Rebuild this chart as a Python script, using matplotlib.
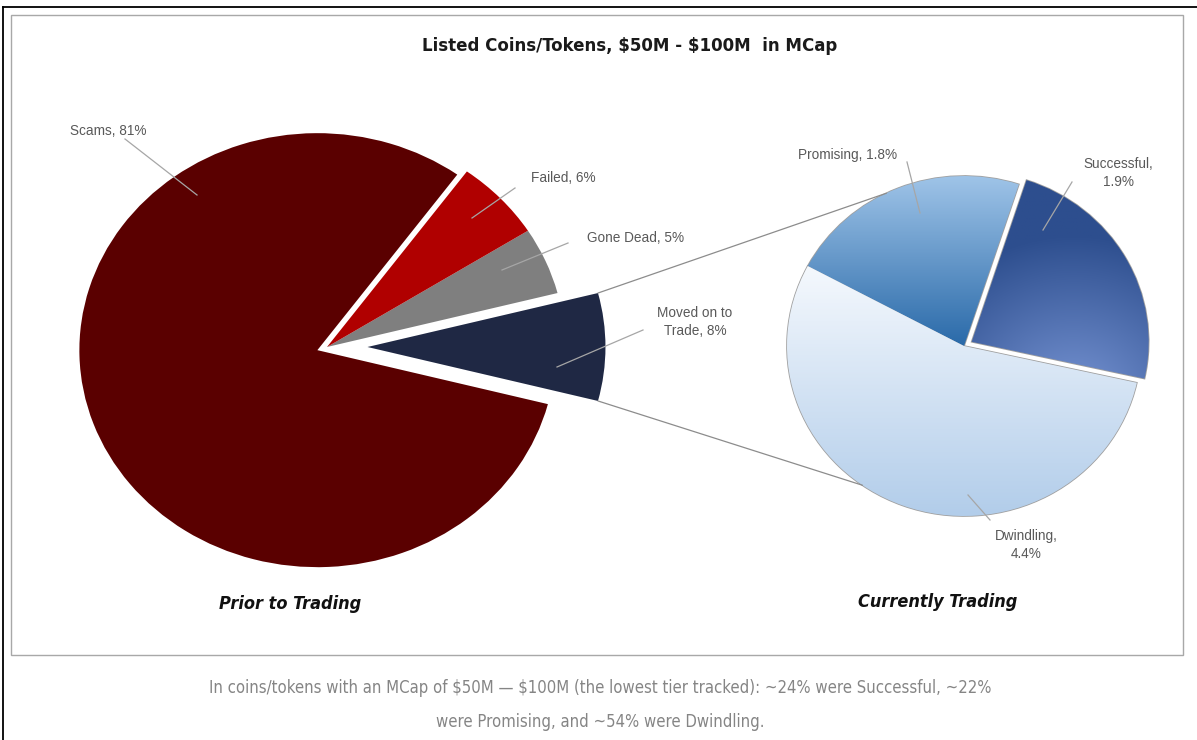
import numpy as np
import matplotlib
matplotlib.use("Agg")
import matplotlib.pyplot as plt
from matplotlib import font_manager
from matplotlib.patches import ConnectionPatch, Rectangle
from matplotlib.colors import to_rgb

# ---------------- data ----------------
title = "Listed Coins/Tokens, $50M - $100M  in MCap"
left_names = ["Moved on to Trade", "Gone Dead", "Failed", "Scams"]
left_values = [8, 5, 6, 81]
right_names = ["Successful", "Promising", "Dwindling"]
right_values = [1.9, 1.8, 4.4]
left_caption = "Prior to Trading"
right_caption = "Currently Trading"
note_lines = [
    "In coins/tokens with an MCap of $50M \u2014 $100M (the lowest tier tracked): ~24% were Successful, ~22%",
    "were Promising, and ~54% were Dwindling.",
]

# ---------------- fonts ----------------
names = {f.name for f in font_manager.fontManager.ttflist}
NARROW = "Liberation Sans Narrow" if "Liberation Sans Narrow" in names else "DejaVu Sans"
NARROW_STRETCH = "normal" if NARROW == "Liberation Sans Narrow" else "condensed"
LABEL_FONT = "Liberation Sans" if "Liberation Sans" in names else "DejaVu Sans"


def esc(s):
    return s.replace("$", r"\$")


W, H = 1197, 740
fig = plt.figure(figsize=(W / 100, H / 100), dpi=100)
fig.patch.set_facecolor("white")


def pie_axes(cx, cy, sx, sy, L=1.3):
    ax = fig.add_axes([(cx - L * sx) / W, (H - cy - L * sy) / H,
                       2 * L * sx / W, 2 * L * sy / H])
    return ax, L


# ---------------- left pie ----------------
axL, L1 = pie_axes(327, 347, 238, 217)
left_colors = ["#1f2844", "#7f7f7f", "#b00000", "#5a0000"]
left_explode = [0.17, 0.0, 0.0, 0.043]
start_left = -180.0 * left_values[0] / sum(left_values)
wl, _ = axL.pie(left_values, colors=left_colors, explode=left_explode,
                startangle=start_left, counterclock=True, radius=1.0,
                wedgeprops=dict(linewidth=0), frame=False)
axL.set_aspect("auto")
axL.set_xlim(-L1, L1)
axL.set_ylim(-L1, L1)
axL.axis("off")

# ---------------- right pie ----------------
axR, L2 = pie_axes(964, 346, 177, 170)
right_colors = ["#3a60a8", "#5b9bd5", "#d6e5f5"]
right_explode = [0.05, 0.0, 0.0]
wr, _ = axR.pie(right_values, colors=right_colors, explode=right_explode,
                startangle=-12.5, counterclock=True, radius=1.0,
                wedgeprops=dict(linewidth=1.2, edgecolor="#a0a0a0"), frame=False)

n = 300
gx = np.linspace(-1.25, 1.25, n)
GX, GY = np.meshgrid(gx, gx)


def blend(c1, c2, t):
    c1 = np.array(to_rgb(c1)); c2 = np.array(to_rgb(c2))
    t = np.clip(t, 0, 1)[..., None]
    return c1 * (1 - t) + c2 * t


grads = [
    blend("#7a97d6", "#2d4e8e", np.hypot(GX - 0.62, GY + 0.35) / 1.0),   # Successful (radial)
    blend("#9fc4e8", "#2a6aa9", (1.0 - GY) / 1.0),                       # Promising
    blend("#f4f8fd", "#b2cdea", (0.45 - GY) / 1.45),                      # Dwindling
]
for w, img in zip(wr, grads):
    im = axR.imshow(img, extent=(-1.25, 1.25, -1.25, 1.25), origin="lower",
                    aspect="auto", zorder=w.get_zorder() + 0.01)
    im.set_clip_path(w)
axR.set_aspect("auto")
axR.set_xlim(-L2, L2)
axR.set_ylim(-L2, L2)
axR.axis("off")

# ---------------- connector lines ----------------
half = np.deg2rad(180.0 * left_values[0] / sum(left_values))
mx = left_explode[0]
for sgn, ang in [(1, 116), (-1, 235)]:
    a = np.deg2rad(ang)
    cp = ConnectionPatch(xyA=(mx + np.cos(half), sgn * np.sin(half)), coordsA=axL.transData,
                         xyB=(np.cos(a), np.sin(a)), coordsB=axR.transData,
                         color="#8c8c8c", lw=0.9, zorder=1)
    fig.add_artist(cp)

# ---------------- overlay (pixel coords) ----------------
ov = fig.add_axes([0, 0, 1, 1], zorder=5)
ov.set_xlim(0, W)
ov.set_ylim(H, 0)
ov.axis("off")

ov.plot([3, W], [7, 7], color="black", lw=1.3)
ov.plot([3, 3], [7, H], color="black", lw=1.3)
ov.add_patch(Rectangle((11, 15), 1172, 640, fill=False, edgecolor="#a8a8a8", lw=1.0))

ov.text(630, 46, esc(title), ha="center", va="center", fontsize=13.3,
        fontweight="bold", family=NARROW, fontstretch=NARROW_STRETCH, color="#1a1a1a")

# label layout: text pos, leader start, leader end, break mode
label_layout = {
    "Scams": (108, 131, (125, 139), (197, 195), 0),
    "Failed": (563, 178, (515, 188), (472, 218), 0),
    "Gone Dead": (636, 238, (568, 243), (502, 270), 0),
    "Moved on to Trade": (695, 322, (643, 330), (557, 367), 2),
    "Promising": (848, 155, (907, 162), (920, 213), 0),
    "Successful": (1118, 173, (1072, 182), (1043, 230), 1),
    "Dwindling": (1026, 545, (990, 520), (968, 495), 1),
}


def make_label(name, val, mode):
    v = f"{val:g}%"
    if mode == 1:
        return f"{name},\n{v}"
    if mode == 2:
        head, last = name.rsplit(" ", 1)
        return f"{head}\n{last}, {v}"
    return f"{name}, {v}"


for name, val in list(zip(left_names, left_values)) + list(zip(right_names, right_values)):
    tx, ty, p0, p1, mode = label_layout[name]
    ov.plot([p0[0], p1[0]], [p0[1], p1[1]], color="#a6a6a6", lw=0.9)
    ov.text(tx, ty, make_label(name, val, mode), ha="center", va="center",
            fontsize=9.8, family=LABEL_FONT, color="#595959", linespacing=1.45)

ov.text(290, 604, left_caption, ha="center", va="center", fontsize=13,
        fontweight="bold", style="italic", family=NARROW, fontstretch=NARROW_STRETCH,
        color="#111111")
ov.text(938, 602, right_caption, ha="center", va="center", fontsize=13,
        fontweight="bold", style="italic", family=NARROW, fontstretch=NARROW_STRETCH,
        color="#111111")

for i, line in enumerate(note_lines):
    ov.text(600, 688 + 34 * i, esc(line), ha="center", va="center", fontsize=12,
            family=NARROW, fontstretch=NARROW_STRETCH, color="#858585")

fig.savefig("out.png", dpi=100, facecolor="white")
